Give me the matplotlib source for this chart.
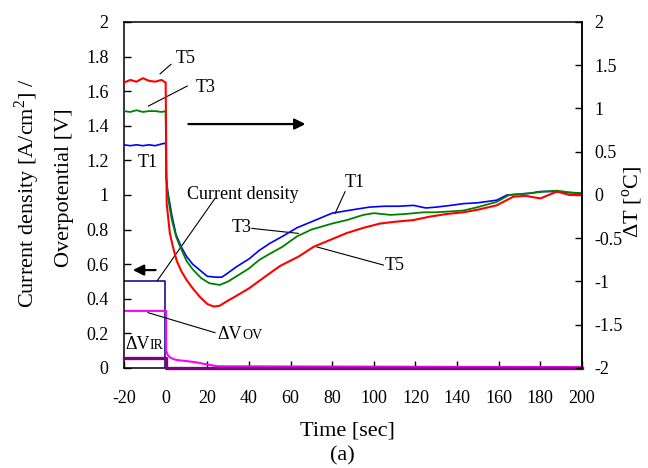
import matplotlib
matplotlib.use("Agg")
import matplotlib.pyplot as plt

plt.rcParams['font.family'] = ['Liberation Serif', 'DejaVu Serif']
plt.rcParams['mathtext.fontset'] = 'custom'
plt.rcParams['mathtext.rm'] = 'Liberation Serif'
plt.rcParams['axes.unicode_minus'] = False

# temperature change curves (right axis, delta T in degC)
t1_time = [-20, -17, -14, -11, -8, -5, -2, 0, 0.3, 1, 2, 3, 5, 7.5, 10, 13, 16.5, 20, 24, 27, 30,
           34, 40, 45, 50, 56, 63, 70, 80, 90, 98, 105, 112, 119, 125, 130, 137, 143, 150, 159,
           164, 170, 175, 180, 186, 192, 200]
t1_dT = [0.58, 0.57, 0.58, 0.57, 0.58, 0.57, 0.59, 0.60, 0.20, 0.04, -0.10, -0.24, -0.46, -0.60,
         -0.71, -0.80, -0.87, -0.94, -0.95, -0.95, -0.90, -0.83, -0.74, -0.64, -0.56, -0.48, -0.38,
         -0.31, -0.21, -0.17, -0.14, -0.13, -0.13, -0.12, -0.15, -0.14, -0.12, -0.10, -0.09, -0.06,
         0.0, 0.01, 0.02, 0.04, 0.04, 0.03, 0.02]

t3_time = [-20, -17, -14, -11, -8, -5, -2, 0, 0.3, 1, 2, 3, 5, 7, 10, 13, 17, 21, 26, 30, 34, 40,
           45, 50, 56, 63, 70, 80, 87, 95, 100, 108, 115, 124, 130, 143, 150, 159, 165, 170, 175,
           182, 188, 194, 200]
t3_dT = [0.97, 0.96, 0.98, 0.96, 0.97, 0.97, 0.96, 0.97, 0.20, 0.0, -0.16, -0.29, -0.48, -0.60,
         -0.76, -0.86, -0.96, -1.02, -1.04, -1.00, -0.94, -0.85, -0.75, -0.68, -0.60, -0.48, -0.40,
         -0.33, -0.29, -0.23, -0.21, -0.23, -0.22, -0.20, -0.20, -0.18, -0.14, -0.08, 0.0, 0.01,
         0.02, 0.04, 0.05, 0.03, 0.02]

t5_time = [-20, -17, -14, -11, -8, -5, -2, 0, 0.5, 2, 3.5, 5.3, 7.5, 10, 13, 16.5, 20, 23, 26, 30,
           33, 40, 48, 55, 64, 71, 80, 87, 95, 103, 110, 119, 127, 135, 143, 150, 159, 167, 173,
           180, 188, 194, 200]
t5_dT = [1.30, 1.33, 1.31, 1.35, 1.32, 1.31, 1.33, 1.30, -0.10, -0.44, -0.60, -0.76, -0.88, -0.98,
         -1.08, -1.18, -1.26, -1.29, -1.28, -1.22, -1.18, -1.08, -0.94, -0.82, -0.71, -0.60, -0.51,
         -0.44, -0.38, -0.33, -0.31, -0.29, -0.25, -0.22, -0.20, -0.17, -0.12, -0.02, -0.01,
         -0.04, 0.04, 0.0, 0.0]

# current density and overpotentials (left axis)
cd_time = [-20, -0.5, -0.5, 200]
cd_val = [0.5, 0.5, 0.0, 0.0]
ov_time = [-20, 0.2, 0.2, 1, 2, 4, 6, 10, 15, 20, 25, 200]
ov_val = [0.33, 0.33, 0.10, 0.075, 0.062, 0.05, 0.045, 0.04, 0.032, 0.02, 0.01, 0.005]
ir_time = [-20, 0, 0, 200]
ir_val = [0.058, 0.058, 0.0, 0.0]

x_ticks = [-20, 0, 20, 40, 60, 80, 100, 120, 140, 160, 180, 200]
left_ticks = [0, 0.2, 0.4, 0.6, 0.8, 1, 1.2, 1.4, 1.6, 1.8, 2]
left_labels = ['0', '0.2', '0.4', '0.6', '0.8', '1', '1.2', '1.4', '1.6', '1.8', '2']
right_ticks = [-2, -1.5, -1, -0.5, 0, 0.5, 1, 1.5, 2]
right_labels = ['-2', '-1.5', '-1', '-0.5', '0', '0.5', '1', '1.5', '2']

fig = plt.figure(figsize=(6.48, 4.68), dpi=100)
ax = fig.add_axes([0.1914, 0.2137, 0.7067, 0.7393])
ax2 = ax.twinx()

ax.set_xlim(-20, 200)
ax.set_ylim(0, 2)
ax2.set_ylim(-2, 2)

ax.plot(cd_time, cd_val, color='#000080', lw=1.1)
ax.plot(ov_time, ov_val, color='#ff00ff', lw=1.5)
ax.plot(ir_time, ir_val, color='#800080', lw=2.4, clip_on=False, zorder=5)

ax2.plot(t1_time, t1_dT, color='#0000ff', lw=1.2)
ax2.plot(t3_time, t3_dT, color='#008000', lw=1.3)
ax2.plot(t5_time, t5_dT, color='#ff0000', lw=1.5)

ax.set_xticks(x_ticks)
ax.set_xticklabels([str(v) for v in x_ticks])
ax.set_yticks(left_ticks)
ax.set_yticklabels(left_labels)
ax2.set_yticks(right_ticks)
ax2.set_yticklabels(right_labels)

ax.tick_params(axis='x', direction='in', length=5, width=1, labelsize=13, pad=16)
ax.tick_params(axis='y', direction='in', length=5, width=1, labelsize=13, pad=11)
ax2.tick_params(axis='y', direction='in', length=5, width=1, labelsize=13, pad=9)
for s in ax.spines.values():
    s.set_linewidth(1.1)
# only the right spine on the twin, so the purple line stays on top of the bottom axis
for name in ('left', 'top', 'bottom'):
    ax2.spines[name].set_visible(False)
ax2.spines['right'].set_linewidth(1.1)

# arrows pointing to each axis
ax.annotate('', xy=(68.5, 1.41), xytext=(9.6, 1.41),
            arrowprops=dict(arrowstyle='-|>', color='k', lw=1.6, mutation_scale=16))
ax.annotate('', xy=(-17.1, 0.566), xytext=(-3.5, 0.566),
            arrowprops=dict(arrowstyle='-|>', color='k', lw=1.6, mutation_scale=16))

# leader lines
leaders = [((-2.7, 1.70), (2.5, 1.755)),
           ((-8.3, 1.514), (10.4, 1.63)),
           ((23.7, 0.98), (-4, 0.505)),
           ((-8.5, 0.32), (23.7, 0.204)),
           ((41.4, 0.807), (63.7, 0.778)),
           ((86.2, 1.019), (81.4, 0.894)),
           ((104.6, 0.595), (72.6, 0.70))]
for (xa, ya), (xb, yb) in leaders:
    ax.plot([xa, xb], [ya, yb], color='k', lw=0.8)

fs = 13
ax.text(9.4, 1.79, 'T5', fontsize=fs, ha='center', va='center')
ax.text(19, 1.62, 'T3', fontsize=fs, ha='center', va='center')
ax.text(-8.6, 1.19, 'T1', fontsize=fs, ha='center', va='center')
ax.text(36.6, 0.81, 'T3', fontsize=fs, ha='center', va='center')
ax.text(91, 1.075, 'T1', fontsize=fs, ha='center', va='center')
ax.text(110, 0.595, 'T5', fontsize=fs, ha='center', va='center')
ax.text(37, 1.0, 'Current density', fontsize=fs, ha='center', va='center')

ax.text(25, 0.165, 'ΔV', fontsize=fs, ha='left', va='baseline')
ax.annotate('OV', xy=(25, 0.165), xytext=(17.5, 0), textcoords='offset points',
            fontsize=10, ha='left', va='baseline')
ax.text(-19.5, 0.11, 'ΔV', fontsize=fs, ha='left', va='baseline')
ax.annotate('IR', xy=(-19.5, 0.11), xytext=(17.5, 0), textcoords='offset points',
            fontsize=10, ha='left', va='baseline')

fig.text(27 / 648, 1 - 193 / 468, r'Current density [A/cm$^{2}$] /', rotation=90,
         fontsize=16, ha='center', va='center')
fig.text(64 / 648, 1 - 188 / 468, 'Overpotential [V]', rotation=90,
         fontsize=16, ha='center', va='center')
fig.text(633 / 648, 1 - 202 / 468, r'ΔT [$^{\mathrm{o}}$C]', rotation=90,
         fontsize=16, ha='center', va='center')
fig.text(347 / 648, 1 - 431 / 468, 'Time [sec]', fontsize=16, ha='center', va='center')
fig.text(342 / 648, 3 / 468, '(a)', fontsize=16, ha='center', va='bottom')

fig.savefig('out.png', dpi=100)
